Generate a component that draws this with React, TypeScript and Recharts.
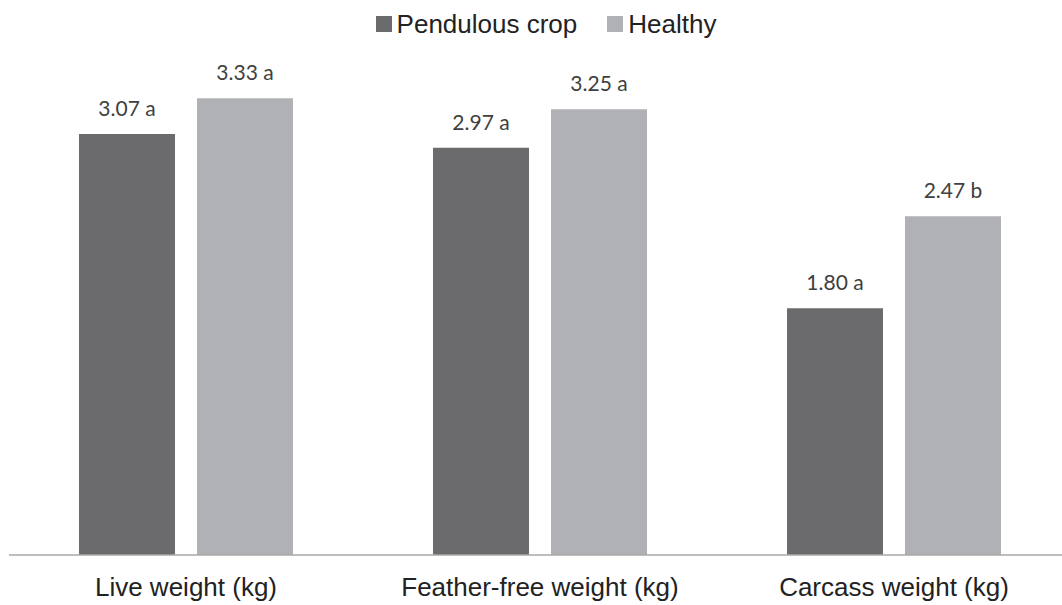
import React from 'react';
import { BarChart, Bar, XAxis, YAxis, LabelList, Legend } from 'recharts';

const categories = ['Live weight (kg)', 'Feather-free weight (kg)', 'Carcass weight (kg)'];
const pendulous = [3.07, 2.97, 1.8];
const healthy = [3.33, 3.25, 2.47];
const pendulousLetters = ['a', 'a', 'a'];
const healthyLetters = ['a', 'a', 'b'];

const DARK = '#6b6b6d';
const LIGHT = '#b0b1b4';

const data = categories.map((name, i) => ({
  name,
  pendulous: pendulous[i],
  healthy: healthy[i],
  pendulousLabel: `${pendulous[i].toFixed(2)} ${pendulousLetters[i]}`,
  healthyLabel: `${healthy[i].toFixed(2)} ${healthyLetters[i]}`,
}));

const legendItems = [
  { name: 'Pendulous crop', color: DARK },
  { name: 'Healthy', color: LIGHT },
];

const LegendContent = () => (
  <div
    style={{
      height: 75,
      display: 'flex',
      justifyContent: 'center',
      alignItems: 'flex-start',
      paddingTop: 11,
      paddingLeft: 12,
      boxSizing: 'border-box',
      gap: 30,
      fontFamily: '"Liberation Sans", Arial, sans-serif',
      fontSize: 26,
      color: '#222',
      lineHeight: 1,
    }}
  >
    {legendItems.map((item) => (
      <div key={item.name} style={{ display: 'flex', alignItems: 'center', gap: 5 }}>
        <div style={{ width: 16, height: 16, background: item.color }} />
        <span>{item.name}</span>
      </div>
    ))}
  </div>
);

const labelStyle = { fontFamily: 'Lato, sans-serif', fontSize: 21, fill: '#404040' };

export default function App() {
  return (
    <div
      style={{
        position: 'absolute',
        top: 0,
        left: 0,
        width: 1062,
        height: 605,
        overflow: 'hidden',
        background: '#fff',
      }}
    >
      <BarChart
        width={1071}
        height={605}
        data={data}
        margin={{ top: 0, right: 0, left: 9, bottom: 0 }}
        barSize={96}
        barGap={22}
      >
        <Legend verticalAlign="top" align="center" content={<LegendContent />} />
        <XAxis
          dataKey="name"
          height={50}
          tickLine={false}
          tickSize={0}
          tickMargin={23}
          axisLine={{ stroke: '#a8a8a8', strokeWidth: 1.5 }}
          tick={{ fontFamily: '"Liberation Sans", Arial, sans-serif', fontSize: 26, fill: '#222' }}
        />
        <YAxis hide domain={[0, 3.5]} />
        <Bar dataKey="pendulous" fill={DARK} isAnimationActive={false}>
          <LabelList dataKey="pendulousLabel" position="top" offset={18} style={labelStyle} />
        </Bar>
        <Bar dataKey="healthy" fill={LIGHT} isAnimationActive={false}>
          <LabelList dataKey="healthyLabel" position="top" offset={18} style={labelStyle} />
        </Bar>
      </BarChart>
    </div>
  );
}
